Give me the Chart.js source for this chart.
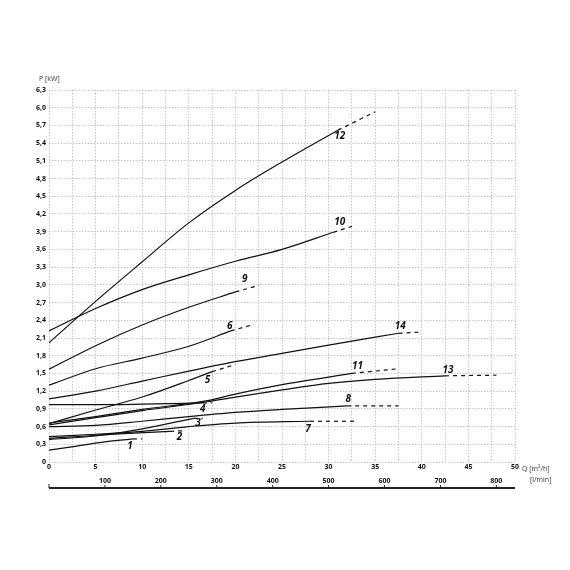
<!DOCTYPE html>
<html><head><meta charset="utf-8">
<script src="https://cdn.jsdelivr.net/npm/chart.js@4/dist/chart.umd.min.js"></script>
<style>html,body{margin:0;padding:0;background:#fff}#w{width:570px;height:570px}</style>
</head><body><div id="w"><canvas id="c"></canvas></div>
<script>
// curves: [x,y] solid part, then dashed continuation
const c1  = [[0,0.2],[3,0.27],[6,0.34],[9,0.39]];           const c1d  = [[9,0.39],[10,0.39]];
const c2  = [[0,0.40],[4,0.44],[8,0.48],[13,0.52]];         const c2d  = [[13,0.52],[14.5,0.53]];
const c3  = [[0,0.38],[5,0.44],[10,0.56],[15.5,0.74]];      const c3d  = [[15.5,0.74],[16.5,0.74]];
const c4  = [[0,0.97],[5,0.97],[10,0.98],[16.5,1.0]];       const c4d  = [[16.5,1.0],[17.5,1.0]];
const c5  = [[0,0.65],[5,0.88],[10,1.1],[15,1.38],[17.5,1.53]]; const c5d = [[17.5,1.53],[20,1.65]];
const c6  = [[0,1.3],[5,1.58],[10,1.76],[15,1.96],[19.5,2.22]]; const c6d = [[19.5,2.22],[22,2.33]];
const c7  = [[0,0.43],[5,0.47],[10,0.52],[15,0.6],[20,0.66],[28,0.69]]; const c7d = [[28,0.69],[33,0.69]];
const c8  = [[0,0.6],[5,0.62],[10,0.69],[15,0.77],[20,0.84],[25,0.89],[32,0.95]]; const c8d = [[32,0.95],[37.5,0.95]];
const c9  = [[0,1.57],[5,1.97],[10,2.32],[15,2.62],[20,2.88]]; const c9d = [[20,2.88],[22.5,2.99]];
const c10 = [[0,2.22],[5,2.6],[10,2.92],[15,3.17],[20,3.4],[25,3.6],[30.5,3.89]]; const c10d = [[30.5,3.89],[32.5,3.99]];
const c11 = [[0,0.66],[5,0.77],[10,0.89],[17,1.04],[20,1.15],[25,1.31],[32.5,1.5]]; const c11d = [[32.5,1.5],[37.5,1.58]];
const c12 = [[0,2.02],[5,2.72],[10,3.39],[15,4.05],[20,4.6],[25,5.08],[31,5.62]]; const c12d = [[31,5.62],[35,5.93]];
const c13 = [[0,0.63],[5,0.75],[10,0.87],[17,1.02],[20,1.1],[25,1.22],[30,1.33],[35,1.4],[42.5,1.46]]; const c13d = [[42.5,1.46],[48,1.47]];
const c14 = [[0,1.07],[5,1.2],[10,1.37],[15,1.54],[20,1.7],[25,1.84],[30,1.98],[37.5,2.18]]; const c14d = [[37.5,2.18],[40,2.2]];
const curveLabels = ['1','2','3','4','5','6','7','8','9','10','11','12','13','14'];
const labelAt = [[8.7,0.27],[14,0.42],[16,0.66],[16.5,0.9],[17,1.39],[19.4,2.3],[27.8,0.56],[32.1,1.07],[21,3.1],[31.2,4.06],[33.1,1.63],[31.2,5.52],[42.8,1.56],[37.7,2.3]];
const lminTicks = [100,200,300,400,500,600,700,800];

const solids=[c1,c2,c3,c4,c5,c6,c7,c8,c9,c10,c11,c12,c13,c14];
const dashes=[c1d,c2d,c3d,c4d,c5d,c6d,c7d,c8d,c9d,c10d,c11d,c12d,c13d,c14d];
const pts=a=>a.map(p=>({x:p[0],y:p[1]}));
const ds=[];
solids.forEach(s=>ds.push({data:pts(s),showLine:true,borderColor:'#111',borderWidth:1.2,pointRadius:0,tension:0.4,cubicInterpolationMode:'monotone'}));
dashes.forEach(s=>ds.push({data:pts(s),showLine:true,borderColor:'#111',borderWidth:1.2,borderDash:[4,4],pointRadius:0}));
ds.push({data:pts(labelAt),showLine:false,pointRadius:0,labelsDs:true});

const fmt=v=>{const r=Math.round(v*10)/10;return r===0?'0':r.toFixed(1).replace('.',',');};
const deco={id:'deco',afterDatasetsDraw(ch){
  const g=ch.ctx,x=ch.scales.x,y=ch.scales.y,a=ch.chartArea;
  g.save();g.fillStyle='#111';
  g.font='italic bold 10px "Open Sans"';g.textAlign='center';g.textBaseline='middle';
  labelAt.forEach((p,i)=>g.fillText(curveLabels[i],x.getPixelForValue(p[0]),y.getPixelForValue(p[1])));
  // l/min axis
  const ly=a.bottom+26;
  g.strokeStyle='#222';g.lineWidth=2;g.beginPath();g.moveTo(x.getPixelForValue(0),ly);g.lineTo(x.getPixelForValue(50),ly);g.stroke();
  g.lineWidth=1;g.beginPath();g.moveTo(x.getPixelForValue(0),ly-4);g.lineTo(x.getPixelForValue(0),ly);g.stroke();
  g.font='bold 7px "Open Sans"';g.textBaseline='alphabetic';
  lminTicks.forEach(v=>{const px=x.getPixelForValue(v*0.06);g.beginPath();g.moveTo(px,ly-3);g.lineTo(px,ly);g.stroke();g.fillText(String(v),px,ly-5);});
  g.font='7px "Open Sans"';g.textAlign='left';g.fillStyle='#333';
  g.fillText('Q [m\u00B3/h]',a.right+7,a.bottom+9);
  g.fillText('[l/min]',a.right+15,a.bottom+20);
  g.fillText('P [kW]',a.left-10,a.top-9);
  g.restore();}};

new Chart(document.getElementById('c'),{type:'scatter',data:{datasets:ds},plugins:[deco],
 options:{responsive:true,maintainAspectRatio:false,animation:false,
  layout:{padding:{top:90,right:55,left:0,bottom:0}},
  plugins:{legend:{display:false},tooltip:{enabled:false}},
  scales:{
   x:{min:0,max:50,afterFit(s){s.height=108;},
      ticks:{stepSize:2.5,autoSkip:false,maxRotation:0,padding:1,color:'#111',font:{family:'Open Sans',size:7,weight:'bold'},callback:v=>(v%5===0?String(v):'')},
      grid:{color:'#bbb',lineWidth:0.8,tickLength:0},border:{dash:[1.5,1.5],color:'#bbb'}},
   y:{min:0,max:6.3,afterFit(s){s.width=49;},
      ticks:{stepSize:0.3,autoSkip:false,padding:3,color:'#111',font:{family:'Open Sans',size:7,weight:'bold'},callback:v=>fmt(v)},
      grid:{color:'#bbb',lineWidth:0.8,tickLength:0},border:{dash:[1.5,1.5],color:'#bbb'}}
  }}});
Chart.defaults.borderColor='#bbb';
</script>
<script>
// dotted gridlines
for(const id in Chart.instances){const ch=Chart.instances[id];ch.options.scales.x.grid.borderDash=[1.5,1.5];ch.options.scales.x.border.dash=[1.5,1.5];ch.options.scales.x.grid.dash=[1.5,1.5];
 ch.options.scales.x.border.display=false;ch.options.scales.y.border.display=false;ch.update();}
</script>
</body></html>
